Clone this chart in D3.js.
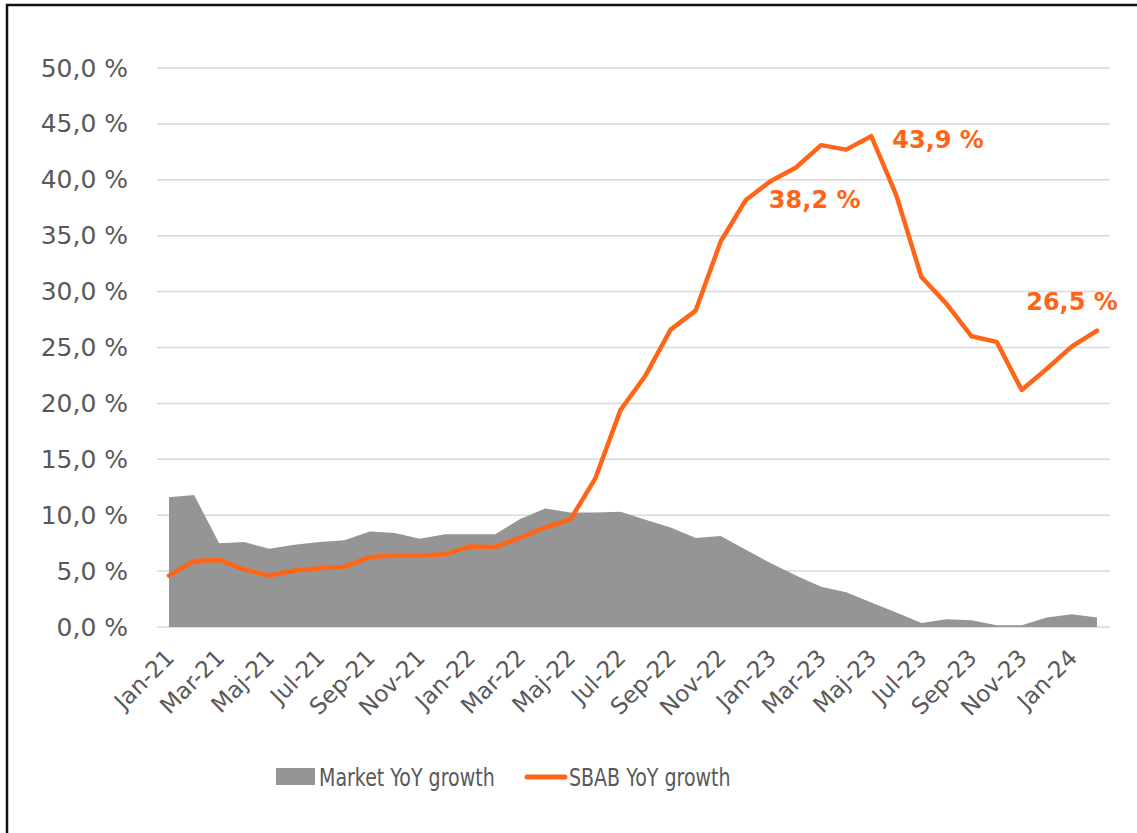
<!DOCTYPE html>
<html>
<head>
<meta charset="utf-8">
<script src="https://cdn.jsdelivr.net/npm/d3@7"></script>
<style>
  body { margin: 0; background: #fff; }
  svg { display: block; }
</style>
</head>
<body>
<script>
// Months Jan-21 .. Feb-24 (Swedish short month names)
const months = [
  'Jan-21', 'Feb-21', 'Mar-21', 'Apr-21', 'Maj-21', 'Jun-21', 'Jul-21', 'Aug-21', 'Sep-21', 'Okt-21', 'Nov-21', 'Dec-21',
  'Jan-22', 'Feb-22', 'Mar-22', 'Apr-22', 'Maj-22', 'Jun-22', 'Jul-22', 'Aug-22', 'Sep-22', 'Okt-22', 'Nov-22', 'Dec-22',
  'Jan-23', 'Feb-23', 'Mar-23', 'Apr-23', 'Maj-23', 'Jun-23', 'Jul-23', 'Aug-23', 'Sep-23', 'Okt-23', 'Nov-23', 'Dec-23',
  'Jan-24', 'Feb-24'
];

const marketGrowth = [
  11.6, 11.8, 7.5, 7.6, 7.0, 7.35, 7.6, 7.75, 8.55, 8.4, 7.9, 8.3,
  8.3, 8.3, 9.65, 10.6, 10.25, 10.25, 10.3, 9.6, 8.9, 7.95, 8.15, 6.9,
  5.7, 4.6, 3.6, 3.1, 2.2, 1.3, 0.35, 0.7, 0.6, 0.15, 0.15, 0.85,
  1.15, 0.85
];

const sbabGrowth = [
  4.6, 5.9, 6.0, 5.15, 4.6, 5.05, 5.25, 5.4, 6.25, 6.4, 6.4, 6.5,
  7.2, 7.15, 8.0, 8.9, 9.6, 13.3, 19.4, 22.5, 26.6, 28.3, 34.5, 38.2,
  39.9, 41.1, 43.1, 42.7, 43.9, 38.6, 31.3, 28.9, 26.0, 25.5, 21.2, 23.1,
  25.1, 26.5
];

const yTicks = [0, 5, 10, 15, 20, 25, 30, 35, 40, 45, 50];
const xTickLabels = months.filter((m, i) => i % 2 === 0);

// labelled points
const callouts = [
  { month: 'Dec-22', text: '38,2 %', dx: 23, dy: 0, anchor: 'start' },
  { month: 'Maj-23', text: '43,9 %', dx: 21, dy: 3, anchor: 'start' },
  { month: 'Feb-24', text: '26,5 %', dx: -25, dy: -29, anchor: 'middle' }
];

const width = 1137;
const height = 833;
const orange = '#ff6517';
const grey = '#959595';
const textColor = '#595959';
const font = '"DejaVu Sans", sans-serif';

const svg = d3.select('body').append('svg')
    .attr('width', width)
    .attr('height', height);

// outer frame
svg.append('rect')
    .attr('x', 7).attr('y', 5)
    .attr('width', width + 20).attr('height', height + 20)
    .attr('fill', 'none')
    .attr('stroke', '#111')
    .attr('stroke-width', 2.5);

const x = d3.scalePoint().domain(months).range([169, 1097]);
const y = d3.scaleLinear().domain([0, 50]).range([627, 68]);

// gridlines
svg.append('g')
    .selectAll('line')
    .data(yTicks)
    .join('line')
    .attr('x1', 157).attr('x2', 1110)
    .attr('y1', d => y(d)).attr('y2', d => y(d))
    .attr('stroke', '#d9d9d9')
    .attr('stroke-width', 1.5);

// y axis labels
const yAxis = svg.append('g')
    .attr('transform', 'translate(140,0)')
    .call(d3.axisLeft(y).tickValues(yTicks).tickSize(0).tickPadding(12)
        .tickFormat(d => d3.format('.1f')(d).replace('.', ',') + ' %'));
yAxis.select('.domain').remove();
yAxis.selectAll('text')
    .attr('font-family', font)
    .attr('font-size', 25)
    .attr('fill', textColor);

// market area
const area = d3.area()
    .x((d, i) => x(months[i]))
    .y0(y(0))
    .y1(d => y(d));
svg.append('path')
    .datum(marketGrowth)
    .attr('d', area)
    .attr('fill', grey);

// SBAB line
const line = d3.line()
    .x((d, i) => x(months[i]))
    .y(d => y(d));
svg.append('path')
    .datum(sbabGrowth)
    .attr('d', line)
    .attr('fill', 'none')
    .attr('stroke', orange)
    .attr('stroke-width', 4.5)
    .attr('stroke-linejoin', 'round')
    .attr('stroke-linecap', 'round');

// x axis labels (rotated)
const xAxis = svg.append('g')
    .attr('transform', `translate(0,${y(0)})`)
    .call(d3.axisBottom(x).tickValues(xTickLabels).tickSize(0));
xAxis.select('.domain').remove();
xAxis.selectAll('text')
    .attr('font-family', font)
    .attr('font-size', 23)
    .attr('fill', textColor)
    .attr('text-anchor', 'end')
    .attr('dy', 0)
    .attr('transform', 'translate(4,30) rotate(-45)');

// data labels
svg.append('g')
    .selectAll('text')
    .data(callouts)
    .join('text')
    .attr('x', d => x(d.month) + d.dx)
    .attr('y', d => y(sbabGrowth[months.indexOf(d.month)]) + d.dy)
    .attr('dy', '0.35em')
    .attr('text-anchor', d => d.anchor)
    .attr('font-family', font)
    .attr('font-weight', 'bold')
    .attr('font-size', 24)
    .attr('fill', orange)
    .text(d => d.text);

// legend (text squeezed horizontally to match the narrow original face)
const legend = svg.append('g')
    .attr('font-family', font)
    .attr('font-size', 25)
    .attr('fill', textColor);
legend.append('rect')
    .attr('x', 276).attr('y', 768)
    .attr('width', 39).attr('height', 17)
    .attr('fill', grey);
legend.append('text')
    .attr('transform', 'translate(319,786) scale(0.76,1)')
    .text('Market YoY growth');
legend.append('line')
    .attr('x1', 527).attr('x2', 565)
    .attr('y1', 777).attr('y2', 777)
    .attr('stroke', orange)
    .attr('stroke-width', 5)
    .attr('stroke-linecap', 'round');
legend.append('text')
    .attr('transform', 'translate(569,786) scale(0.76,1)')
    .text('SBAB YoY growth');
</script>
</body>
</html>
